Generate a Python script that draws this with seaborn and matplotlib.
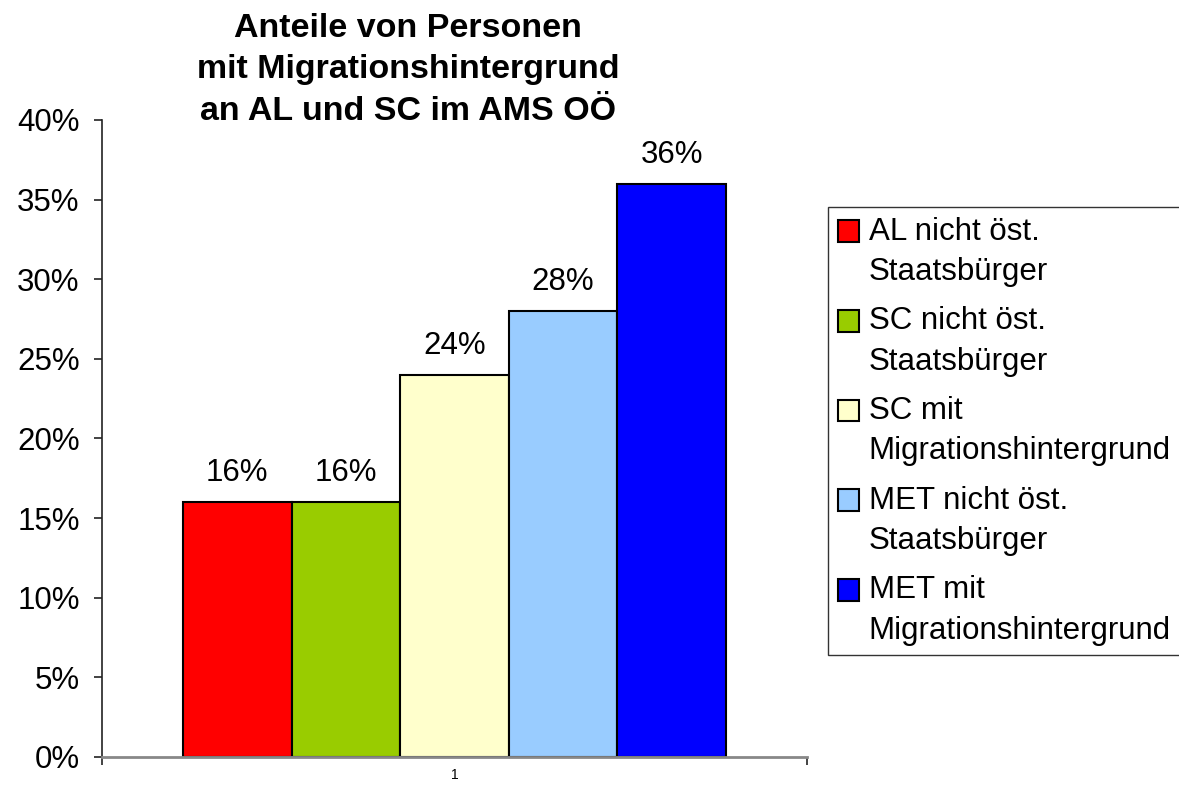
import pandas as pd
import matplotlib.pyplot as plt
import seaborn as sns
from matplotlib.ticker import PercentFormatter, FixedLocator
from matplotlib.legend_handler import HandlerPatch
from matplotlib.patches import Rectangle

# Data
categories = ["1"]
series = ["AL nicht öst.\nStaatsbürger",
          "SC nicht öst.\nStaatsbürger",
          "SC mit\nMigrationshintergrund",
          "MET nicht öst.\nStaatsbürger",
          "MET mit\nMigrationshintergrund"]
values = [0.16, 0.16, 0.24, 0.28, 0.36]
colors = ["#FF0000", "#99CC00", "#FFFFCC", "#99CCFF", "#0000FF"]

df = pd.DataFrame({"cat": categories * len(series), "series": series, "value": values})


# legend square next to the first line of a two-line label
class TopPatch(HandlerPatch):
    def create_artists(self, legend, orig_handle, xdescent, ydescent,
                       width, height, fontsize, trans):
        p = Rectangle((-xdescent, -ydescent + 0.68 * fontsize), width, height)
        self.update_prop(p, orig_handle, legend)
        p.set_transform(trans)
        return [p]


sns.set_style("white")
plt.rcParams["font.family"] = ["Liberation Sans", "DejaVu Sans"]
plt.rcParams["text.color"] = "black"
plt.rcParams["xtick.color"] = "black"
plt.rcParams["ytick.color"] = "black"

fig = plt.figure(figsize=(11.79, 7.85), dpi=100)
ax = fig.add_axes([0.0865, 0.0357, 0.598, 0.8115])

sns.barplot(data=df, x="cat", y="value", hue="series", palette=colors,
            width=0.77, edgecolor="black", linewidth=1.5, saturation=1,
            ax=ax)

for c in ax.containers:
    ax.bar_label(c, labels=[f"{v * 100:.0f}%" for v in c.datavalues],
                 padding=10, fontsize=22.5)

ax.set_xlim(-0.5, 0.5)
ax.set_ylim(0, 0.40)
ax.yaxis.set_major_locator(FixedLocator([i * 0.05 for i in range(9)]))
ax.yaxis.set_major_formatter(PercentFormatter(1.0, decimals=0))
ax.tick_params(axis="y", labelsize=22.5, length=6, width=1.2, direction="out",
               left=True, color="#222222", pad=10)
ax.tick_params(axis="x", labelsize=10, length=0, pad=8)
ax.xaxis.set_minor_locator(FixedLocator([-0.5, 0.5]))
ax.tick_params(axis="x", which="minor", length=6, width=1.2, bottom=True,
               color="#222222")
ax.set_xlabel("")
ax.set_ylabel("")

for s in ["top", "right"]:
    ax.spines[s].set_visible(False)
ax.spines["left"].set_color("#222222")
ax.spines["left"].set_linewidth(1.2)
ax.spines["bottom"].set_color("#888888")
ax.spines["bottom"].set_linewidth(2)

fig.text(0.346, 0.983, "Anteile von Personen\nmit Migrationshintergrund\nan AL und SC im AMS OÖ",
         ha="center", va="top", fontsize=24.5, fontweight="bold", linespacing=1.42)

leg = ax.legend(loc="upper left", bbox_to_anchor=(1.03, 0.863), frameon=True,
                fontsize=22.5, handlelength=0.7, handleheight=0.7,
                handletextpad=0.3, labelspacing=0.62, borderpad=0.3,
                borderaxespad=0, fancybox=False,
                handler_map={Rectangle: TopPatch()})
for t in leg.get_texts():
    t.set_linespacing(1.45)
leg.get_frame().set_edgecolor("black")
leg.get_frame().set_linewidth(1.0)

fig.savefig("out.png", dpi=100)
